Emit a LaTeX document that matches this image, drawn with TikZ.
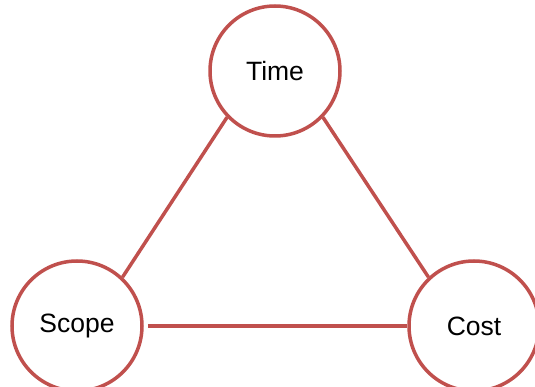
\documentclass[tikz,border=0pt]{standalone}
\usepackage{fontspec}
\setmainfont{Liberation Sans}
\usepackage{xcolor}
\definecolor{triangle-red}{RGB}{192,80,77}
\usetikzlibrary{calc}
\tikzstyle{constraint}=[circle, draw=triangle-red, line width=3.5pt, fill=white, minimum size=130pt, inner sep=0pt, font=\fontsize{26.5}{30}\selectfont]
\tikzstyle{edge}=[draw=triangle-red, line width=3.5pt]

\begin{document}
\begin{tikzpicture}[x=1pt, y=-1pt]
	\useasboundingbox (0,0) rectangle (535,387);
	\node[constraint] (time) at (275,71) {Time};
	\node[constraint] (scope) at (77,326) {Scope};
	\node[constraint] (cost) at (474,326) {Cost};
	\draw[edge] (time.224) -- (scope.47);
	\draw[edge] (time.316) -- (cost.133);
	\draw[edge, shorten <=4pt] (scope.east) -- (cost.west);
\end{tikzpicture}
\end{document}
